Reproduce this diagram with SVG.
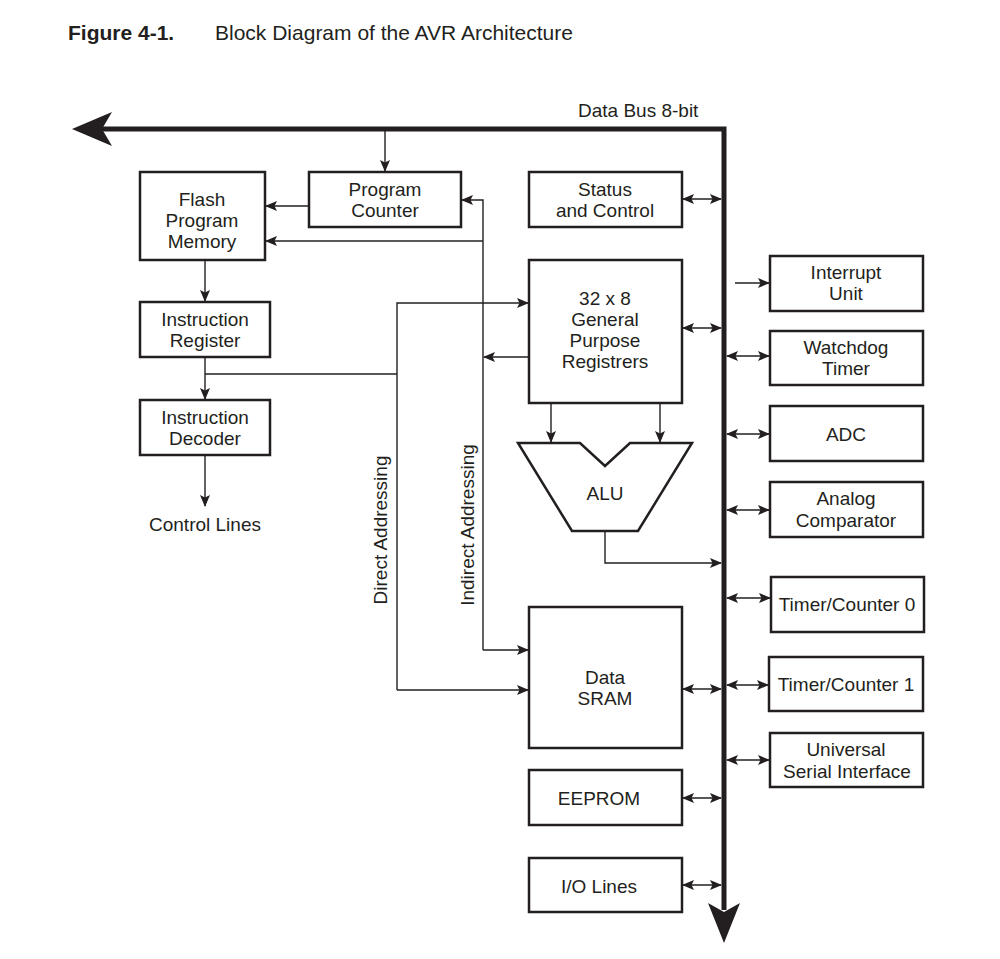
<svg xmlns="http://www.w3.org/2000/svg" width="1000" height="959" viewBox="0 0 1000 959">
<style>
.box{fill:#fff;stroke:#231f20;stroke-width:2.5}
.ln{fill:none;stroke:#231f20;stroke-width:1.4}
.t{font-family:"Liberation Sans",Arial,sans-serif;font-size:19px;fill:#231f20;text-anchor:middle}
.tl{font-family:"Liberation Sans",Arial,sans-serif;font-size:19px;fill:#231f20}
.ti{font-family:"Liberation Sans",Arial,sans-serif;font-size:21px;fill:#231f20}
.bus{fill:none;stroke:#231f20;stroke-width:5}
</style>
<defs>
<marker id="ah" markerUnits="userSpaceOnUse" markerWidth="12" markerHeight="10" refX="11" refY="5" orient="auto-start-reverse" viewBox="0 0 12 10">
<path d="M0,0 L12,5 L0,10 L2.5,5 z" fill="#231f20"/>
</marker>
</defs>
<text class="ti" x="68" y="40" font-weight="bold" font-size="22">Figure 4-1.</text>
<text class="ti" x="215" y="40">Block Diagram of the AVR Architecture</text>

<g id="bus">
<path class="bus" d="M96,129 H724 V910"/>
<path d="M72,129 L112,112 L102,129 L112,146 z" fill="#231f20"/>
<path d="M724,943 L708,903 L724,912 L740,903 z" fill="#231f20"/>
<text class="tl" x="578" y="117">Data Bus 8-bit</text>
</g>

<g id="connectors">
<path class="ln" d="M385,131 V171" marker-end="url(#ah)"/>
<path class="ln" d="M309,206 H266" marker-end="url(#ah)"/>
<path class="ln" d="M483,650 V200 H462" marker-end="url(#ah)"/>
<path class="ln" d="M483,241 H266" marker-end="url(#ah)"/>
<path class="ln" d="M483,650 H528" marker-end="url(#ah)"/>
<path class="ln" d="M529,357 H484" marker-end="url(#ah)"/>
<path class="ln" d="M205,260 V301" marker-end="url(#ah)"/>
<path class="ln" d="M205,357 V399" marker-end="url(#ah)"/>
<path class="ln" d="M205,374 H397"/>
<path class="ln" d="M397,690 V303 H528" marker-end="url(#ah)"/>
<path class="ln" d="M397,690 H528" marker-end="url(#ah)"/>
<path class="ln" d="M205,455 V506" marker-end="url(#ah)"/>
<path class="ln" d="M551,403 V442" marker-end="url(#ah)"/>
<path class="ln" d="M660,403 V442" marker-end="url(#ah)"/>
<path class="ln" d="M605,532 V563 H721" marker-end="url(#ah)"/>
<path class="ln" d="M735,283 H769" marker-end="url(#ah)"/>
<path class="ln" d="M683,199 H721" marker-start="url(#ah)" marker-end="url(#ah)"/>
<path class="ln" d="M683,328 H721" marker-start="url(#ah)" marker-end="url(#ah)"/>
<path class="ln" d="M683,689 H721" marker-start="url(#ah)" marker-end="url(#ah)"/>
<path class="ln" d="M683,798 H721" marker-start="url(#ah)" marker-end="url(#ah)"/>
<path class="ln" d="M683,885 H721" marker-start="url(#ah)" marker-end="url(#ah)"/>
<path class="ln" d="M727,356 H769" marker-start="url(#ah)" marker-end="url(#ah)"/>
<path class="ln" d="M727,434 H769" marker-start="url(#ah)" marker-end="url(#ah)"/>
<path class="ln" d="M727,510 H769" marker-start="url(#ah)" marker-end="url(#ah)"/>
<path class="ln" d="M727,598 H770" marker-start="url(#ah)" marker-end="url(#ah)"/>
<path class="ln" d="M727,685 H768" marker-start="url(#ah)" marker-end="url(#ah)"/>
<path class="ln" d="M727,760 H769" marker-start="url(#ah)" marker-end="url(#ah)"/>
<text class="t" transform="translate(387,530) rotate(-90)">Direct Addressing</text>
<text class="t" transform="translate(474,525) rotate(-90)">Indirect Addressing</text>
<text class="t" x="205" y="531">Control Lines</text>
</g>

<g id="flash"><rect class="box" x="140" y="172" width="125" height="88"/>
<text class="t" x="202" y="206">Flash</text><text class="t" x="202" y="227">Program</text><text class="t" x="202" y="248">Memory</text></g>
<g id="pc"><rect class="box" x="309" y="172" width="152" height="55"/>
<text class="t" x="385" y="196">Program</text><text class="t" x="385" y="217">Counter</text></g>
<g id="status"><rect class="box" x="529" y="172" width="153" height="55"/>
<text class="t" x="605" y="196">Status</text><text class="t" x="605" y="217">and Control</text></g>
<g id="gpr"><rect class="box" x="529" y="260" width="153" height="143"/>
<text class="t" x="605" y="305">32 x 8</text><text class="t" x="605" y="326">General</text><text class="t" x="605" y="347">Purpose</text><text class="t" x="605" y="368">Registrers</text></g>
<g id="ir"><rect class="box" x="140" y="302" width="130" height="55"/>
<text class="t" x="205" y="326">Instruction</text><text class="t" x="205" y="347">Register</text></g>
<g id="id"><rect class="box" x="140" y="400" width="130" height="55"/>
<text class="t" x="205" y="424">Instruction</text><text class="t" x="205" y="445">Decoder</text></g>
<g id="alu"><path class="box" d="M518,443 H580 L605,466 L630,443 H692 L638,531 H572 z"/>
<text class="t" x="605" y="500">ALU</text></g>
<g id="sram"><rect class="box" x="529" y="607" width="153" height="141"/>
<text class="t" x="605" y="684">Data</text><text class="t" x="605" y="705">SRAM</text></g>
<g id="eeprom"><rect class="box" x="529" y="770" width="153" height="55"/>
<text class="t" x="599" y="805">EEPROM</text></g>
<g id="io"><rect class="box" x="529" y="858" width="153" height="54"/>
<text class="t" x="599" y="893">I/O Lines</text></g>
<g id="interrupt"><rect class="box" x="770" y="256" width="153" height="55"/>
<text class="t" x="846" y="279">Interrupt</text><text class="t" x="846" y="300">Unit</text></g>
<g id="watchdog"><rect class="box" x="770" y="331" width="153" height="54"/>
<text class="t" x="846" y="354">Watchdog</text><text class="t" x="846" y="375">Timer</text></g>
<g id="adc"><rect class="box" x="770" y="406" width="153" height="55"/>
<text class="t" x="846" y="441">ADC</text></g>
<g id="comparator"><rect class="box" x="770" y="482" width="153" height="55"/>
<text class="t" x="846" y="505">Analog</text><text class="t" x="846" y="527">Comparator</text></g>
<g id="tc0"><rect class="box" x="771" y="577" width="153" height="55"/>
<text class="t" x="847" y="611">Timer/Counter 0</text></g>
<g id="tc1"><rect class="box" x="769" y="657" width="154" height="54"/>
<text class="t" x="846" y="691">Timer/Counter 1</text></g>
<g id="usi"><rect class="box" x="770" y="733" width="153" height="54"/>
<text class="t" x="846" y="756">Universal</text><text class="t" x="847" y="778">Serial Interface</text></g>
</svg>
